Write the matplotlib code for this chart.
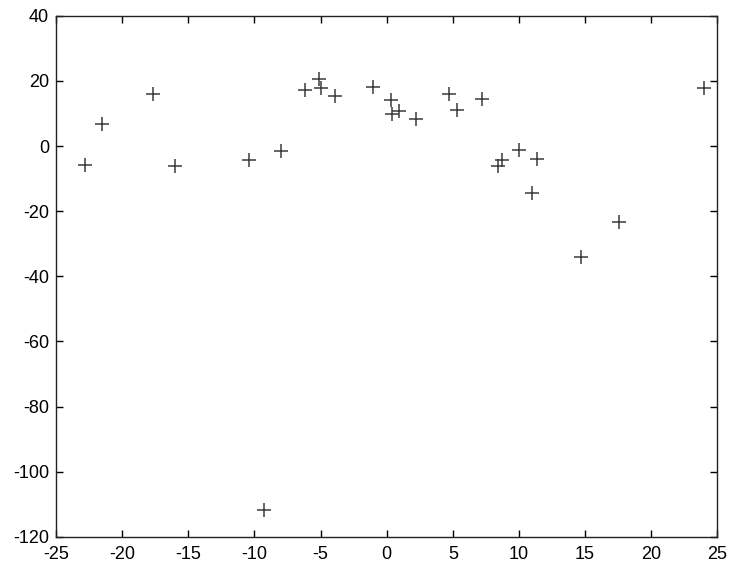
import matplotlib
matplotlib.use('Agg')
import matplotlib.pyplot as plt

# values
x = [-22.8, -21.5, -17.7, -16.0, -10.4, -8.0, -6.2, -5.1, -5.0, -3.9,
     -1.0, 0.3, 0.4, 0.9, 2.2, 4.7, 5.3, 7.2, 8.4, 8.7,
     10.0, 11.4, 11.0, 24.0, 17.6, 14.7, -9.25]
y = [-5.7, 6.9, 15.9, -6.2, -4.3, -1.5, 17.3, 20.6, 17.8, 15.4,
     18.2, 14.2, 9.8, 10.8, 8.2, 15.9, 11.1, 14.4, -6.1, -4.4,
     -1.2, -3.9, -14.4, 17.8, -23.3, -34.1, -111.9]

xticks = list(range(-25, 26, 5))
yticks = list(range(-120, 41, 20))

plt.rcParams['font.family'] = ['Liberation Sans', 'DejaVu Sans']
plt.rcParams['axes.unicode_minus'] = False

fig = plt.figure(figsize=(7.3, 5.65), dpi=100)
ax = fig.add_axes([0.0767, 0.050, 0.906, 0.922])
ax.plot(x, y, '+', color='#3a3a3a', markersize=9.5, markeredgewidth=1.1)

ax.set_xlim(-25, 25)
ax.set_ylim(-120, 40)
ax.set_xticks(xticks)
ax.set_yticks(yticks)
ax.tick_params(direction='in', top=True, right=True, length=5, width=1,
               labelsize=13)
ax.tick_params(axis='x', pad=7)
ax.tick_params(axis='y', pad=5)
for s in ax.spines.values():
    s.set_linewidth(1)
    s.set_color('#222222')

fig.savefig('out.png', dpi=100)
